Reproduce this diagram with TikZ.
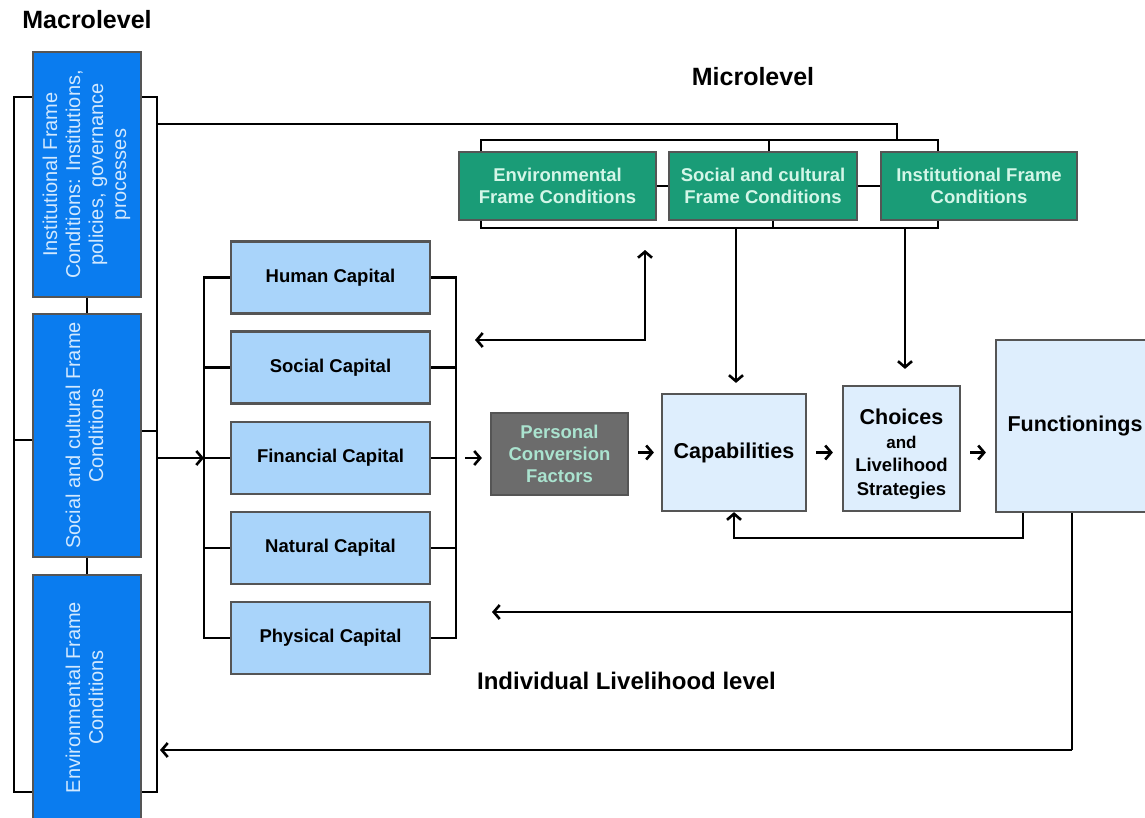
\documentclass[tikz,border=0pt]{standalone}
\usepackage{fontspec}
\usepackage{graphicx}
\setmainfont{Liberation Sans}
\usetikzlibrary{arrows.meta,calc}
\definecolor{macroblue}{HTML}{0A7CEF}
\definecolor{macrotext}{HTML}{D2E9FF}
\definecolor{capblue}{HTML}{A9D4FA}
\definecolor{lightbox}{HTML}{DEEEFD}
\definecolor{greenbox}{HTML}{1A9C77}
\definecolor{greentext}{HTML}{D4F6E8}
\definecolor{pcfgray}{HTML}{6C6C6C}
\definecolor{pcftext}{HTML}{AAE3CF}
\definecolor{boxborder}{HTML}{555555}
\begin{document}
\begin{tikzpicture}[x=1pt,y=-1pt,
  line/.style={draw=black, line width=2.2pt},
  arr/.style={line, -{Straight Barb[length=6pt,width=14pt,line width=2.6pt]}},
  darr/.style={line, {Straight Barb[length=6pt,width=14pt,line width=2.6pt]}-{Straight Barb[length=6pt,width=14pt,line width=2.6pt]}},
  box/.style={draw=boxborder, line width=2.2pt, inner sep=0pt, align=center},
  macro/.style={box, fill=macroblue, text=macrotext, minimum width=108pt, font=\fontsize{20}{23}\selectfont},
  capital/.style={box, fill=capblue, minimum width=199pt, minimum height=72pt, font=\bfseries\fontsize{18.5}{22}\selectfont},
  green/.style={box, fill=greenbox, text=greentext, minimum height=68pt, font=\bfseries\fontsize{18.5}{22}\selectfont},
  light/.style={box, fill=lightbox, font=\bfseries\fontsize{21.5}{24}\selectfont},
  title/.style={font=\bfseries\fontsize{25}{28}\selectfont, inner sep=0pt}
]
\useasboundingbox[fill=white] (0,0) rectangle (1145,817);

% titles
\node[title] (tmacro) at (87,20) {Macrolevel};
\node[title] (tmicro) at (753,77) {Microlevel};
\node[title, font=\bfseries\fontsize{24}{28}\selectfont] (tind) at (626.5,681) {Individual Livelihood level};

% macro boxes
\node[macro, minimum height=245pt] (m1) at (87,174.5)
  {\rotatebox{90}{\renewcommand\arraystretch{1}\begin{tabular}{@{}c@{}}Institutional Frame\\Conditions: Institutions,\\policies, governance\\processes\end{tabular}}};
\node[macro, minimum height=243pt] (m2) at (87,435.5)
  {\rotatebox{90}{\renewcommand\arraystretch{1}\begin{tabular}{@{}c@{}}Social and cultural Frame\\Conditions\end{tabular}}};
\node[macro, minimum height=245pt] (m3) at (87,697.5)
  {\rotatebox{90}{\renewcommand\arraystretch{1}\begin{tabular}{@{}c@{}}Environmental Frame\\Conditions\end{tabular}}};

% capital boxes
\node[capital] (human) at (330.5,277.5) {Human Capital};
\node[capital] (social) at (330.5,367.5) {Social Capital};
\node[capital] (financial) at (330.5,458) {Financial Capital};
\node[capital] (natural) at (330.5,548) {Natural Capital};
\node[capital] (physical) at (330.5,638) {Physical Capital};

% green micro boxes
\node[green, minimum width=197pt] (env) at (557.5,186) {Environmental\\Frame Conditions};
\node[green, minimum width=188pt] (soc) at (763,186) {Social and cultural\\Frame Conditions};
\node[green, minimum width=196pt] (inst) at (979,186) {Institutional Frame\\Conditions};

% process boxes
\node[box, fill=pcfgray, text=pcftext, minimum width=137pt, minimum height=82pt,
      font=\bfseries\fontsize{18.5}{22}\selectfont] (pcf) at (559.5,454) {Personal\\Conversion\\Factors};
\node[light, minimum width=144pt, minimum height=117pt] (cap) at (734,452.5) {Capabilities};
\node[light, minimum width=117pt, minimum height=125pt, font=\bfseries\fontsize{18.5}{23.5}\selectfont] (choices) at (901.5,448.5)
  {\raisebox{0pt}[\dimexpr\height+14pt\relax][\depth]{\renewcommand\arraystretch{1}\begin{tabular}{@{}c@{}}{\fontsize{21.5}{23.5}\selectfont Choices}\\{\fontsize{17}{23.5}\selectfont and}\\Livelihood\\Strategies\end{tabular}}};
\node[light, minimum width=158pt, minimum height=172pt] (func) at (1075,426) {Functionings};

% macro brackets
\coordinate (L1) at (14,97);
\coordinate (L2) at (14,440);
\coordinate (L3) at (14,792);
\coordinate (R1) at (157,97);
\coordinate (R2) at (157,431);
\coordinate (R3) at (157,792);
\coordinate (R4) at (157,458);
\draw[line] (m1.west |- L1) -- (L1) -- (L3) -- (m3.west |- L3);
\draw[line] (L2) -- (m2.west |- L2);
\draw[line] (m1.east |- R1) -- (R1) -- (R3) -- (m3.east |- R3);
\draw[line] (m2.east |- R2) -- (R2);
\draw[line] (m1.south) -- (m2.north);
\draw[line] (m2.south) -- (m3.north);

% top connection to micro level
\coordinate (T1) at (157,124);
\coordinate (T2) at (897,140);
\draw[line] (T1) -| (T2);

% green brackets
\coordinate (GT1) at (481,140);
\coordinate (GT2) at (769,140);
\coordinate (GT3) at (938,140);
\coordinate (GB1) at (481,228);
\coordinate (GB2) at (773,228);
\coordinate (GB3) at (938,228);
\draw[line] (env.north -| GT1) -- (GT1) -- (GT3) -- (inst.north -| GT3);
\draw[line] (soc.north -| GT2) -- (GT2);
\draw[line] (env.south -| GB1) -- (GB1) -- (GB3) -- (inst.south -| GB3);
\draw[line] (soc.south -| GB2) -- (GB2);
\draw[line] (env.east) -- (soc.west);
\draw[line] (soc.east) -- (inst.west);

% arrows from micro conditions
\coordinate (D1) at (736,228);
\coordinate (D2) at (905,228);
\draw[arr, shorten >=10pt] (D1) -- (D1 |- cap.north);
\draw[arr, shorten >=16pt] (D2) -- (D2 |- choices.north);
\coordinate (U1) at (645,250);
\coordinate (U2) at (645,340);
\coordinate (U3) at (475,340);
\draw[darr] (U1) -- (U2) -- (U3);

% capital brackets
\coordinate (CL) at (204,458);
\coordinate (CR) at (456,458);
\draw[line] (human.west) -- (human.west -| CL) -- (physical.west -| CL) -- (physical.west);
\draw[line] (social.west) -- (social.west -| CL);
\draw[line] (financial.west) -- (financial.west -| CL);
\draw[line] (natural.west) -- (natural.west -| CL);
\draw[line] (human.east) -- (human.east -| CR) -- (physical.east -| CR) -- (physical.east);
\draw[line] (social.east) -- (social.east -| CR);
\draw[line] (financial.east) -- (financial.east -| CR);
\draw[line] (natural.east) -- (natural.east -| CR);
\draw[arr] (R4) -- (CL);

% main chain
\draw[arr, shorten <=9pt, shorten >=8pt] (CR) -- (pcf.west |- CR);
\draw[arr, shorten <=9pt, shorten >=7pt] (pcf.east |- cap.west) -- (cap.west);
\draw[arr, shorten <=9pt, shorten >=9pt] (cap.east) -- (choices.west |- cap.east);
\draw[arr, shorten <=9pt, shorten >=9pt] (choices.east |- cap.east) -- (func.west |- cap.east);

% feedback loops
\coordinate (F1) at (1023,538);
\draw[arr] (func.south -| F1) -- (F1) -| (cap.south);
\coordinate (F2) at (1072,750);
\coordinate (F3) at (1072,612);
\coordinate (A1) at (492,612);
\coordinate (A2) at (160,750);
\draw[line] (func.south -| F2) -- (F2);
\draw[arr] (F3) -- (A1);
\draw[arr] (F2) -- (A2);
\end{tikzpicture}
\end{document}
